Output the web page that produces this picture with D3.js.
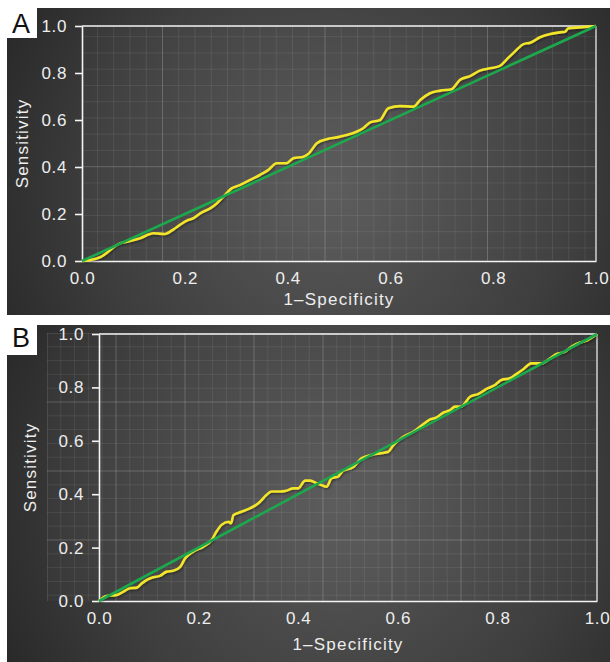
<!DOCTYPE html>
<html>
<head>
<meta charset="utf-8">
<script src="https://cdn.jsdelivr.net/npm/d3@7"></script>
<style>
  html, body { margin: 0; padding: 0; background: #fff; }
  svg { display: block; font-family: "Liberation Sans", Arial, Helvetica, sans-serif; }
</style>
</head>
<body>
<svg id="chart" width="610" height="662"></svg>
<script>
// Data
const tickValues = [0, 0.2, 0.4, 0.6, 0.8, 1.0];
const tickLabels = ["0.0", "0.2", "0.4", "0.6", "0.8", "1.0"];
const xTitle = "1\u2013Specificity";
const yTitle = "Sensitivity";

// Panel A ROC curve
const fprA = [0, 0.035, 0.074, 0.087, 0.113, 0.139, 0.161, 0.178, 0.19, 0.204, 0.217, 0.23,
  0.25, 0.262, 0.275, 0.291, 0.307, 0.327, 0.346, 0.362, 0.379, 0.398, 0.411, 0.431, 0.44,
  0.457, 0.476, 0.496, 0.515, 0.534, 0.547, 0.56, 0.58, 0.596, 0.619, 0.645, 0.658, 0.677,
  0.697, 0.719, 0.735, 0.755, 0.774, 0.794, 0.813, 0.826, 0.842, 0.859, 0.872, 0.891, 0.911,
  0.93, 0.94, 0.946, 0.969, 1.0];
const tprA = [0, 0.016, 0.075, 0.082, 0.097, 0.118, 0.115, 0.135, 0.153, 0.172, 0.182, 0.203,
  0.225, 0.245, 0.274, 0.309, 0.323, 0.345, 0.366, 0.387, 0.416, 0.416, 0.437, 0.444, 0.455,
  0.501, 0.518, 0.526, 0.536, 0.55, 0.565, 0.589, 0.6, 0.65, 0.659, 0.657, 0.685, 0.714,
  0.725, 0.731, 0.77, 0.787, 0.81, 0.82, 0.83, 0.857, 0.891, 0.923, 0.929, 0.952, 0.966,
  0.973, 0.976, 0.99, 0.994, 1.0];

// Panel B ROC curve
const fprB = [0, 0.015, 0.034, 0.049, 0.062, 0.076, 0.086, 0.096, 0.109, 0.122, 0.136, 0.149,
  0.163, 0.173, 0.189, 0.209, 0.226, 0.236, 0.246, 0.26, 0.265, 0.27, 0.286, 0.303, 0.32,
  0.33, 0.347, 0.363, 0.376, 0.39, 0.4, 0.414, 0.424, 0.437, 0.447, 0.457, 0.467, 0.48,
  0.49, 0.51, 0.527, 0.547, 0.564, 0.581, 0.591, 0.611, 0.631, 0.645, 0.665, 0.678, 0.691,
  0.705, 0.715, 0.727, 0.745, 0.761, 0.781, 0.795, 0.808, 0.825, 0.838, 0.852, 0.868,
  0.889, 0.906, 0.919, 0.936, 0.949, 0.966, 0.979, 1.0];
const tprB = [0, 0.019, 0.022, 0.035, 0.048, 0.05, 0.066, 0.079, 0.089, 0.094, 0.11, 0.113,
  0.128, 0.16, 0.185, 0.203, 0.228, 0.26, 0.285, 0.297, 0.291, 0.322, 0.334, 0.347, 0.366,
  0.385, 0.41, 0.41, 0.413, 0.422, 0.422, 0.451, 0.451, 0.441, 0.434, 0.428, 0.46, 0.466,
  0.488, 0.501, 0.534, 0.547, 0.553, 0.559, 0.584, 0.615, 0.634, 0.653, 0.68, 0.688, 0.705,
  0.715, 0.728, 0.728, 0.765, 0.775, 0.797, 0.809, 0.828, 0.834, 0.85, 0.868, 0.89,
  0.89, 0.909, 0.925, 0.934, 0.953, 0.968, 0.975, 1.0];

const svg = d3.select("#chart");
const defs = svg.append("defs");

// Yellow curve soft shadow
const shadow = defs.append("filter").attr("id", "shadow")
    .attr("x", "-5%").attr("y", "-5%").attr("width", "110%").attr("height", "110%");
shadow.append("feDropShadow")
    .attr("dx", 0.8).attr("dy", 1.2).attr("stdDeviation", 1)
    .attr("flood-color", "#000").attr("flood-opacity", 0.45);

function drawPanel(p) {
    const g = svg.append("g");

    // Dark background with radial glow
    const grad = defs.append("radialGradient").attr("id", "bg" + p.label)
        .attr("gradientUnits", "userSpaceOnUse")
        .attr("cx", p.glow[0]).attr("cy", p.glow[1]).attr("r", p.glow[2]);
    grad.append("stop").attr("offset", "0%").attr("stop-color", "#5a5a5a");
    grad.append("stop").attr("offset", "55%").attr("stop-color", "#3e3e3e");
    grad.append("stop").attr("offset", "100%").attr("stop-color", "#202020");

    g.append("rect")
        .attr("x", p.bg[0]).attr("y", p.bg[1])
        .attr("width", p.bg[2] - p.bg[0]).attr("height", p.bg[3] - p.bg[1])
        .attr("fill", `url(#bg${p.label})`);

    const x = d3.scaleLinear().domain([0, 1]).range([p.left, p.right]);
    const y = d3.scaleLinear().domain([0, 1]).range([p.bottom, p.top]);

    // Decorative graph-paper grid
    const clipId = "clip" + p.label;
    defs.append("clipPath").attr("id", clipId).append("rect")
        .attr("x", p.grid[0]).attr("y", p.grid[1])
        .attr("width", p.grid[2] - p.grid[0]).attr("height", p.grid[3] - p.grid[1]);
    const grid = g.append("g").attr("clip-path", `url(#${clipId})`);
    grid.append("rect")
        .attr("x", p.grid[0]).attr("y", p.grid[1])
        .attr("width", p.grid[2] - p.grid[0]).attr("height", p.grid[3] - p.grid[1])
        .attr("fill", "rgba(255,255,255,0.025)");
    const vx = d3.range(Math.ceil((p.grid[0] - p.gridOrigin[0]) / p.step), Math.floor((p.grid[2] - p.gridOrigin[0]) / p.step) + 1);
    const hy = d3.range(Math.ceil((p.grid[1] - p.gridOrigin[1]) / p.step), Math.floor((p.grid[3] - p.gridOrigin[1]) / p.step) + 1);
    grid.selectAll(".gv").data(vx).enter().append("line")
        .attr("x1", k => p.gridOrigin[0] + k * p.step).attr("x2", k => p.gridOrigin[0] + k * p.step)
        .attr("y1", p.grid[1]).attr("y2", p.grid[3])
        .attr("stroke", k => k % p.major === 0 ? "rgba(255,255,255,0.2)" : "rgba(255,255,255,0.08)")
        .attr("stroke-width", 1);
    grid.selectAll(".gh").data(hy).enter().append("line")
        .attr("y1", k => p.gridOrigin[1] + k * p.step).attr("y2", k => p.gridOrigin[1] + k * p.step)
        .attr("x1", p.grid[0]).attr("x2", p.grid[2])
        .attr("stroke", k => k % p.major === 0 ? "rgba(255,255,255,0.2)" : "rgba(255,255,255,0.08)")
        .attr("stroke-width", 1);

    // Frame: top and right
    g.append("line").attr("x1", p.left).attr("x2", p.right).attr("y1", p.top).attr("y2", p.top)
        .attr("stroke", "#f4f4f4").attr("stroke-width", 1.6);
    g.append("line").attr("x1", p.right).attr("x2", p.right).attr("y1", p.top).attr("y2", p.bottom)
        .attr("stroke", "#c8c8c8").attr("stroke-width", 1.6);

    // Axes
    const yAxis = g.append("g").attr("transform", `translate(${p.left},0)`)
        .call(d3.axisLeft(y).tickValues(tickValues).tickFormat((d, i) => tickLabels[i])
            .tickSize(7).tickSizeOuter(0).tickPadding(8));
    const xAxis = g.append("g").attr("transform", `translate(0,${p.bottom})`)
        .call(d3.axisBottom(x).tickValues(tickValues).tickFormat((d, i) => tickLabels[i])
            .tickSize(0).tickSizeOuter(0).tickPadding(11));
    [xAxis, yAxis].forEach(a => {
        a.select(".domain").attr("stroke", "#f4f4f4").attr("stroke-width", 1.6);
        a.selectAll(".tick line").attr("stroke", "#f4f4f4").attr("stroke-width", 1.6);
        a.selectAll("text").attr("fill", "#eeeeee").style("font-size", "17px")
            .style("letter-spacing", "0.6px").style("font-family", "'Liberation Sans', Arial, sans-serif");
    });

    // Axis titles
    g.append("text").attr("x", (p.left + p.right) / 2).attr("y", p.xTitleY)
        .attr("text-anchor", "middle").attr("fill", "#eeeeee")
        .style("font-size", "17px").style("letter-spacing", "1.2px")
        .text(xTitle);
    g.append("text").attr("transform", `translate(${p.yTitleX},${(p.top + p.bottom) / 2}) rotate(-90)`)
        .attr("text-anchor", "middle").attr("fill", "#eeeeee")
        .style("font-size", "17px").style("letter-spacing", "1.2px")
        .text(yTitle);

    // ROC curve and reference diagonal
    const line = d3.line().x(d => x(d[0])).y(d => y(d[1])).curve(d3.curveMonotoneX);
    g.append("path").datum(d3.zip(p.fpr, p.tpr))
        .attr("d", line).attr("fill", "none")
        .attr("stroke", "#f2e52a").attr("stroke-width", 2.6)
        .attr("stroke-linejoin", "round").attr("filter", "url(#shadow)");
    g.append("path").datum([[0, 0], [1, 1]])
        .attr("d", d3.line().x(d => x(d[0])).y(d => y(d[1])))
        .attr("fill", "none").attr("stroke", "#1ca84c").attr("stroke-width", 2.6);

    // Panel label
    g.append("rect").attr("x", 0).attr("y", p.labelBox[0]).attr("width", 37)
        .attr("height", p.labelBox[1] - p.labelBox[0]).attr("fill", "#fff");
    g.append("text").attr("x", 21).attr("y", p.labelY).attr("text-anchor", "middle")
        .attr("fill", "#111").style("font-size", "27px").style("font-weight", 300)
        .text(p.label);
}

drawPanel({
    label: "A", fpr: fprA, tpr: tprA,
    bg: [7, 8, 610, 315], glow: [330, 190, 420],
    left: 82, right: 596, top: 26, bottom: 261,
    grid: [82, 26, 596, 261], gridOrigin: [0, 4.2], step: 16.25, major: 10,
    xTitleY: 305, yTitleX: 28, labelBox: [0, 38], labelY: 33
});

drawPanel({
    label: "B", fpr: fprB, tpr: tprB,
    bg: [7, 325, 610, 662], glow: [340, 500, 430],
    left: 99, right: 597, top: 334, bottom: 601,
    grid: [47, 333, 597, 601], gridOrigin: [47, 333], step: 13.8, major: 5,
    xTitleY: 650, yTitleX: 36, labelBox: [316, 355], labelY: 347
});
</script>
</body>
</html>
